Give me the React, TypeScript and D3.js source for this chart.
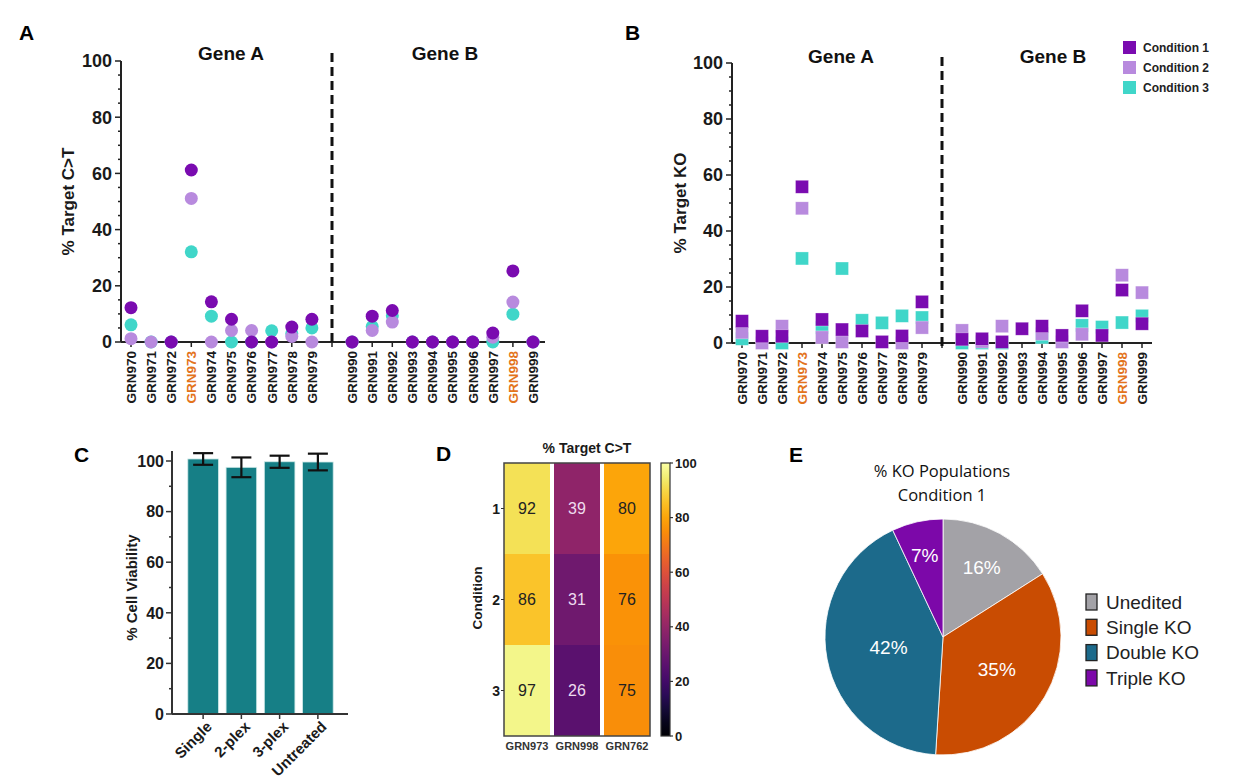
import React from "react";
import * as d3 from "d3";

const FONT = "'Liberation Sans', Arial, Helvetica, sans-serif";

// ---------- Data ----------
const geneACats = ["GRN970", "GRN971", "GRN972", "GRN973", "GRN974", "GRN975", "GRN976", "GRN977", "GRN978", "GRN979"];
const geneBCats = ["GRN990", "GRN991", "GRN992", "GRN993", "GRN994", "GRN995", "GRN996", "GRN997", "GRN998", "GRN999"];
const highlightCats = ["GRN973", "GRN998"];
const conditionNames = ["Condition 1", "Condition 2", "Condition 3"];
const conditionColors = ["#7a0bb0", "#b88ade", "#40d6c9"];
const yTickValues = [0, 20, 40, 60, 80, 100];

// Panel A: % Target C>T (Gene A 10 values, Gene B 10 values)
const ctCondition1 = [12.2, null, 0, 61.2, 14.3, 8.1, 0, 0, 5.3, 8.1, 0, 9.2, 11.2, 0, 0, 0, 0, 3.2, 25.3, 0];
const ctCondition2 = [1.2, 0, 0, 51.1, 0, 4.1, 4.1, 0, 2, 0, 0, 4.1, 7.1, 0, 0, 0, 0, 1.7, 14.2, 0];
const ctCondition3 = [6.1, 0, 0, 32.1, 9.2, 0, 0, 4, 3, 5, 0, 5.5, 9.3, 0, 0, 0, 0, 0, 9.9, 0];

// Panel B: % Target KO
const koCondition1 = [7.8, 2.4, 2.4, 55.8, 8.4, 4.8, 4.3, 0.4, 2.5, 14.7, 1.3, 1.5, 0.4, 5.1, 6, 2.7, 11.5, 2.7, 18.9, 6.9];
const koCondition2 = [3.8, 0, 6, 48.1, 2, 0.4, null, null, 0, 5.5, 4.5, 0.5, 6, null, 3.3, 0.4, 3.1, null, 24.2, 18];
const koCondition3 = [1.5, null, 0, 30.2, 5.5, 26.6, 8.1, 7.2, 9.7, 9.1, 0, 0, 0, null, 2, null, 6.3, 5.7, 7.3, 9.7];

// Panel C: cell viability
const viabilityCats = ["Single", "2-plex", "3-plex", "Untreated"];
const viabilityMeans = [100.8, 97.5, 99.7, 99.6];
const viabilityErrors = [2.3, 3.9, 2.4, 3.3];

// Panel D: heatmap
const heatCols = ["GRN973", "GRN998", "GRN762"];
const heatRows = ["1", "2", "3"];
const heatRow1 = [92, 39, 80];
const heatRow2 = [86, 31, 76];
const heatRow3 = [97, 26, 75];
const colorbarTicks = [0, 20, 40, 60, 80, 100];

// Panel E: pie
const pieLabels = ["Unedited", "Single KO", "Double KO", "Triple KO"];
const pieValues = [16, 35, 42, 7];
const pieColors = ["#a3a2a7", "#c94c02", "#1c6a8b", "#7c08a9"];
const pieLabelRadius = [0.68, 0.53, 0.47, 0.71];

const GAP = "__gap__";
const allSlots = [...geneACats, GAP, ...geneBCats];

type Series = { values: (number | null)[]; color: string };

function ScatterPanel(props: {
  xRange: [number, number];
  axisX: [number, number];
  yRange: [number, number];
  series: Series[];
  shape: "circle" | "square";
  yLabel: string;
  yLabelX: number;
  titleA: [number, number];
  titleB: [number, number];
  dashTop: number;
}) {
  const { xRange, axisX, yRange, series, shape, yLabel, yLabelX, titleA, titleB, dashTop } = props;
  const x = d3.scalePoint<string>().domain(allSlots).range(xRange);
  const y = d3.scaleLinear().domain([0, 100]).range(yRange);
  const y0 = y(0);
  const minor = d3.range(0, 101, 5);
  const catsAll = [...geneACats, ...geneBCats];
  return (
    <g fontFamily={FONT}>
      {/* y axis */}
      <line x1={axisX[0]} x2={axisX[0]} y1={y(0)} y2={y(100)} stroke="#222" strokeWidth={2} />
      {minor.map((v) => (
        <line key={"m" + v} x1={axisX[0] - (v % 20 === 0 ? 6 : 3)} x2={axisX[0]} y1={y(v)} y2={y(v)} stroke="#222" strokeWidth={1.5} />
      ))}
      {yTickValues.map((v) => (
        <text key={"t" + v} x={axisX[0] - 9} y={y(v)} dy="0.36em" textAnchor="end" fontSize={18} fontWeight="bold" fill="#1a1a1a">
          {v}
        </text>
      ))}
      <text transform={`translate(${yLabelX},${(y(0) + y(100)) / 2}) rotate(-90)`} textAnchor="middle" dy="0.35em" fontSize={17} fontWeight="bold" fill="#1a1a1a">
        {yLabel}
      </text>
      {/* x axis */}
      <line x1={axisX[0]} x2={axisX[1]} y1={y0} y2={y0} stroke="#222" strokeWidth={2} />
      {allSlots.map((s) => (
        <line key={"xt" + s} x1={x(s)!} x2={x(s)!} y1={y0} y2={y0 + 5} stroke="#222" strokeWidth={1.5} />
      ))}
      {catsAll.map((c) => (
        <text
          key={"xl" + c}
          transform={`translate(${x(c)!},${y0 + 9}) rotate(-90)`}
          textAnchor="end"
          dy="0.36em"
          fontSize={13.5}
          fontWeight="bold"
          fill={highlightCats.includes(c) ? "#e3731c" : "#1a1a1a"}
        >
          {c}
        </text>
      ))}
      {/* dashed separator */}
      <line x1={x(GAP)!} x2={x(GAP)!} y1={dashTop} y2={y0 + 5} stroke="#111" strokeWidth={3} strokeDasharray="9,5" />
      <text x={titleA[0]} y={titleA[1]} textAnchor="middle" fontSize={19} fontWeight="bold" fill="#111">Gene A</text>
      <text x={titleB[0]} y={titleB[1]} textAnchor="middle" fontSize={19} fontWeight="bold" fill="#111">Gene B</text>
      {/* points */}
      {series.map((s, si) =>
        s.values.map((v, i) => {
          if (v === null) return null;
          const cx = x(catsAll[i])!;
          const cy = y(v);
          return shape === "circle" ? (
            <circle key={si + "-" + i} cx={cx} cy={cy} r={6.5} fill={s.color} />
          ) : (
            <rect key={si + "-" + i} x={cx - 6.5} y={cy - 6.5} width={13} height={13} fill={s.color} stroke="#fff" strokeOpacity={0.5} strokeWidth={0.6} />
          );
        })
      )}
    </g>
  );
}

function PanelC() {
  const x = d3.scaleBand<string>().domain(viabilityCats).range([184, 337]).paddingInner(0.2).paddingOuter(0.1);
  const y = d3.scaleLinear().domain([0, 100]).range([714, 461]);
  const axisX = 172;
  return (
    <g fontFamily={FONT}>
      {viabilityCats.map((c, i) => (
        <rect key={c} x={x(c)!} y={y(viabilityMeans[i])} width={x.bandwidth()} height={y(0) - y(viabilityMeans[i])} fill="#167f86" stroke="#cfe9e8" strokeWidth={0.8} />
      ))}
      {viabilityCats.map((c, i) => {
        const cx = x(c)! + x.bandwidth() / 2;
        const hi = y(viabilityMeans[i] + viabilityErrors[i]);
        const lo = y(viabilityMeans[i] - viabilityErrors[i]);
        return (
          <g key={"e" + c} stroke="#111" strokeWidth={2.2}>
            <line x1={cx} x2={cx} y1={hi} y2={lo} />
            <line x1={cx - 10} x2={cx + 10} y1={hi} y2={hi} />
            <line x1={cx - 10} x2={cx + 10} y1={lo} y2={lo} />
          </g>
        );
      })}
      <line x1={axisX} x2={axisX} y1={y(0)} y2={y(104)} stroke="#333" strokeWidth={2} />
      <line x1={axisX} x2={348} y1={y(0)} y2={y(0)} stroke="#333" strokeWidth={2} />
      {d3.range(0, 101, 10).map((v) => (
        <line key={"ct" + v} x1={axisX - (v % 20 === 0 ? 6 : 3)} x2={axisX} y1={y(v)} y2={y(v)} stroke="#333" strokeWidth={1.5} />
      ))}
      {yTickValues.map((v) => (
        <text key={"cl" + v} x={axisX - 8} y={y(v)} dy="0.36em" textAnchor="end" fontSize={16} fontWeight="bold" fill="#1a1a1a">{v}</text>
      ))}
      {viabilityCats.map((c) => {
        const cx = x(c)! + x.bandwidth() / 2;
        return <line key={"xt" + c} x1={cx} x2={cx} y1={y(0)} y2={y(0) + 5} stroke="#333" strokeWidth={1.5} />;
      })}
      {viabilityCats.map((c) => {
        const cx = x(c)! + x.bandwidth() / 2;
        return (
          <text key={"xl" + c} transform={`translate(${cx + 6},${y(0) + 10}) rotate(-45)`} textAnchor="end" dy="0.35em" fontSize={15} fontWeight="bold" fill="#1a1a1a">{c}</text>
        );
      })}
      <text transform={`translate(132,${(y(0) + y(100)) / 2}) rotate(-90)`} textAnchor="middle" dy="0.35em" fontSize={15} fontWeight="bold" fill="#1a1a1a">% Cell Viability</text>
    </g>
  );
}

function PanelD() {
  const x = d3.scaleBand<string>().domain(heatCols).range([504, 650]).paddingInner(0.08);
  const y = d3.scaleBand<string>().domain(heatRows).range([463, 736]);
  const color = (v: number) => d3.interpolateInferno(v / 100);
  const rows = [heatRow1, heatRow2, heatRow3];
  const cb = d3.scaleLinear().domain([0, 100]).range([736, 463]);
  const stops = d3.range(0, 1.0001, 0.05);
  return (
    <g fontFamily={FONT}>
      <defs>
        <linearGradient id="infernoGrad" x1="0" y1="1" x2="0" y2="0">
          {stops.map((t) => (
            <stop key={t} offset={t} stopColor={d3.interpolateInferno(t)} />
          ))}
        </linearGradient>
      </defs>
      <text x={587} y={453} textAnchor="middle" fontSize={14} fontWeight="bold" fill="#1a1a1a">% Target C&gt;T</text>
      {rows.map((row, ri) =>
        row.map((v, ci) => (
          <g key={ri + "-" + ci}>
            <rect x={x(heatCols[ci])!} y={y(heatRows[ri])!} width={x.bandwidth()} height={y.bandwidth()} fill={color(v)} />
            <text x={x(heatCols[ci])! + x.bandwidth() / 2} y={y(heatRows[ri])! + y.bandwidth() / 2} dy="0.36em" textAnchor="middle" fontSize={16} fill={v > 55 ? "#222" : "#eedcee"}>{v}</text>
          </g>
        ))
      )}
      <rect x={504} y={463} width={146} height={273} fill="none" stroke="#444" strokeWidth={1.5} />
      {heatRows.map((r) => (
        <g key={"r" + r}>
          <line x1={501} x2={504} y1={y(r)! + y.bandwidth() / 2} y2={y(r)! + y.bandwidth() / 2} stroke="#333" />
          <text x={500} y={y(r)! + y.bandwidth() / 2} dy="0.36em" textAnchor="end" fontSize={14} fontWeight="bold" fill="#1a1a1a">{r}</text>
        </g>
      ))}
      {heatCols.map((c) => (
        <text key={"c" + c} x={x(c)! + x.bandwidth() / 2} y={750} textAnchor="middle" fontSize={11} fontWeight="bold" fill="#333">{c}</text>
      ))}
      <text transform="translate(477,598) rotate(-90)" textAnchor="middle" dy="0.35em" fontSize={13.5} fontWeight="bold" fill="#1a1a1a">Condition</text>
      <rect x={661} y={463} width={9} height={273} fill="url(#infernoGrad)" stroke="#333" strokeWidth={1.2} />
      {colorbarTicks.map((v) => (
        <g key={"cb" + v}>
          <line x1={670} x2={673} y1={cb(v)} y2={cb(v)} stroke="#333" strokeWidth={1.2} />
          <text x={675} y={cb(v)} dy="0.36em" fontSize={13} fontWeight="bold" fill="#1a1a1a">{v}</text>
        </g>
      ))}
    </g>
  );
}

function PanelE() {
  const cx = 943;
  const cy = 637;
  const r = 118;
  const pie = d3.pie<number>().sort(null).value((d) => d)(pieValues);
  const arc = d3.arc<d3.PieArcDatum<number>>().innerRadius(0).outerRadius(r);
  return (
    <g fontFamily={FONT}>
      <text x={942} y={477} textAnchor="middle" fontSize={16.5} fontFamily="'Open Sans', sans-serif" fill="#111">% KO Populations</text>
      <text x={942} y={501} textAnchor="middle" fontSize={16.5} fontFamily="'Open Sans', sans-serif" fill="#111">Condition 1</text>
      <g transform={`translate(${cx},${cy})`}>
        {pie.map((p, i) => (
          <path key={i} d={arc(p)!} fill={pieColors[i]} stroke="#fff" strokeWidth={0.8} />
        ))}
        {pie.map((p, i) => {
          const a = (p.startAngle + p.endAngle) / 2;
          const rr = r * pieLabelRadius[i];
          return (
            <text key={"l" + i} x={Math.sin(a) * rr} y={-Math.cos(a) * rr} dy="0.36em" textAnchor="middle" fontSize={19} fill="#fff">
              {pieValues[i]}%
            </text>
          );
        })}
      </g>
      {pieLabels.map((l, i) => (
        <g key={"lg" + l}>
          <rect x={1086} y={594 + i * 25.3} width={11} height={16} fill={pieColors[i]} stroke="#222" strokeWidth={1.3} />
          <text x={1106} y={602 + i * 25.3} dy="0.36em" fontSize={19} fill="#222">{l}</text>
        </g>
      ))}
    </g>
  );
}

export default function App() {
  const ctSeries: Series[] = [
    { values: ctCondition3, color: conditionColors[2] },
    { values: ctCondition2, color: conditionColors[1] },
    { values: ctCondition1, color: conditionColors[0] },
  ];
  const koSeries: Series[] = [
    { values: koCondition3, color: conditionColors[2] },
    { values: koCondition2, color: conditionColors[1] },
    { values: koCondition1, color: conditionColors[0] },
  ];
  return (
    <svg width={1244} height={784} style={{ position: "absolute", left: 0, top: 0, background: "#fff" }}>
      <rect width={1244} height={784} fill="#fff" />
      <g fontFamily={FONT} fontWeight="bold" fontSize={21} fill="#000">
        <text x={19} y={40}>A</text>
        <text x={625} y={40}>B</text>
        <text x={74} y={462}>C</text>
        <text x={436} y={461}>D</text>
        <text x={789} y={462}>E</text>
      </g>
      <ScatterPanel
        xRange={[131, 533]}
        axisX={[121, 545]}
        yRange={[342, 61]}
        series={ctSeries}
        shape="circle"
        yLabel="% Target C>T"
        yLabelX={68}
        titleA={[231, 60]}
        titleB={[445, 60]}
        dashTop={53}
      />
      <ScatterPanel
        xRange={[742, 1142]}
        axisX={[732, 1152]}
        yRange={[343, 63]}
        series={koSeries}
        shape="square"
        yLabel="% Target KO"
        yLabelX={680}
        titleA={[841, 63]}
        titleB={[1053, 63]}
        dashTop={57}
      />
      <g fontFamily={FONT}>
        {conditionNames.map((n, i) => (
          <g key={n}>
            <rect x={1123} y={41 + i * 20} width={13} height={13} fill={conditionColors[i]} />
            <text x={1143} y={47.5 + i * 20} dy="0.36em" fontSize={12} fontWeight="bold" fill="#222">{n}</text>
          </g>
        ))}
      </g>
      <PanelC />
      <PanelD />
      <PanelE />
    </svg>
  );
}
